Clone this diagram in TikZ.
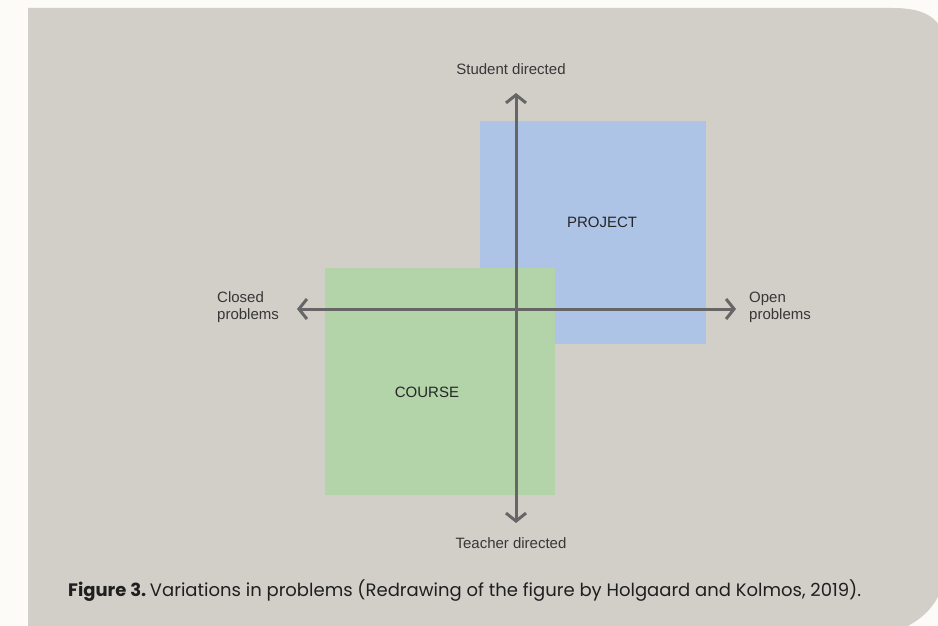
\documentclass[tikz,border=0pt]{standalone}
\usepackage{fontspec}
\setmainfont{Liberation Sans}
\newfontfamily\capfont{Poppins}
\usetikzlibrary{arrows.meta}
\definecolor{panel}{RGB}{210,207,201}
\definecolor{projblue}{RGB}{174,196,230}
\definecolor{coursegreen}{RGB}{178,212,168}
\definecolor{axisgray}{RGB}{102,102,102}
\definecolor{labelgray}{RGB}{55,55,55}
\definecolor{edgewhite}{RGB}{252,251,248}
\tikzset{
  axis/.style={draw=axisgray, line width=3pt, -{Straight Barb[length=8pt,width=20pt,line width=3pt]}},
  axislabel/.style={text=labelgray, font=\fontsize{15}{17}\selectfont, inner sep=0pt},
  sidelabel/.style={axislabel, align=left, anchor=west},
  quadlabel/.style={text=black!85, font=\fontsize{15}{17}\selectfont, inner sep=0pt},
  caption/.style={text=black!88, inner sep=0pt, font=\capfont\fontsize{18}{21}\selectfont}
}
\begin{document}
\begin{tikzpicture}[x=1pt, y=-1pt]
  \useasboundingbox (0,0) rectangle (938,626);
  \fill[edgewhite] (0,0) rectangle (938,626);
  % rounded panel behind the figure
  \fill[panel] (28,8) -- (893,8) .. controls (928,8) and (940,20) .. (946,40)
    -- (946,560) .. controls (946,600) and (925,620) .. (895,632)
    -- (28,632) -- cycle;

  % the two regions
  \fill[projblue] (480,121) rectangle (706,344);
  \fill[coursegreen] (325,268) rectangle (555,495);
  \node[quadlabel] (project) at (602,222) {PROJECT};
  \node[quadlabel] (course) at (427,392) {COURSE};

  % axis end labels
  \node[axislabel] (student) at (511,69) {Student directed};
  \node[axislabel] (teacher) at (511,543) {Teacher directed};
  \node[sidelabel] (closed) at (217,307) {Closed\\problems};
  \node[sidelabel] (open) at (749,307) {Open\\problems};

  % axes
  \coordinate (origin) at (516,309);
  \coordinate (vtop) at (516,93);
  \coordinate (vbot) at (516,523);
  \coordinate (hleft) at (297,309);
  \coordinate (hright) at (736,309);
  \draw[axis] (origin) -- (vtop);
  \draw[axis] (origin) -- (vbot);
  \draw[axis] (origin) -- (hleft);
  \draw[axis] (origin) -- (hright);

  % caption
  \node[caption, anchor=west] (cap) at (68,591)
    {\textbf{Figure 3.}\hspace{-0.15em} Variations in problems (Redrawing of the figure by Holgaard and Kolmos, 2019).};
\end{tikzpicture}
\end{document}
